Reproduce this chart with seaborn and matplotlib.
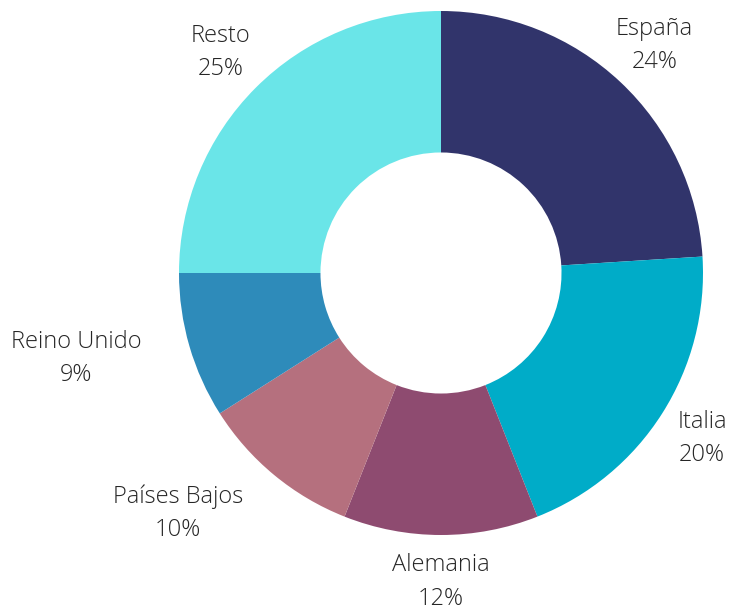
import numpy as np
import pandas as pd
import seaborn as sns
import matplotlib.pyplot as plt

# Datos del gráfico
paises = ['España', 'Italia', 'Alemania', 'Países Bajos', 'Reino Unido', 'Resto']
porcentajes = [24, 20, 12, 10, 9, 25]
colores = ['#31346b', '#00acc8', '#8e4b70', '#b5707e', '#2e8bba', '#6ae5e8']

# Ajuste de posicion de etiquetas (distancia relativa al radio, giro en grados)
dist_etiqueta = [1.19, 1.18, 1.18, 1.36, 1.43, 1.19]
giro_etiqueta = [0, 0, 0, -8, -3, 0]

df = pd.DataFrame({'pais': paises, 'pct': porcentajes})

sns.set_theme(style='white')
plt.rcParams['font.family'] = ['Open Sans', 'DejaVu Sans']

fig = plt.figure(figsize=(7.31, 6.09), dpi=100)
ax = fig.add_axes([0, 0, 1, 1])

centro = (441, 336)
radio = 262
wedges, _ = ax.pie(
    df['pct'], colors=colores, startangle=90, counterclock=False,
    center=centro, radius=radio,
    wedgeprops=dict(width=radio * 0.54, linewidth=0),
    frame=True)

for w, p, v, d, g in zip(wedges, df['pais'], df['pct'], dist_etiqueta, giro_etiqueta):
    ang = np.deg2rad((w.theta1 + w.theta2) / 2 + g)
    x = centro[0] + d * radio * np.cos(ang)
    y = centro[1] + d * radio * np.sin(ang)
    ax.text(x, y, f'{p}\n{v}%', ha='center', va='center', fontsize=17,
            color='#262626', fontweight='light', linespacing=1.53)

ax.set_xlim(0, 731)
ax.set_ylim(0, 609)
ax.set_aspect('equal')
ax.axis('off')

plt.savefig('out.png', dpi=100)
